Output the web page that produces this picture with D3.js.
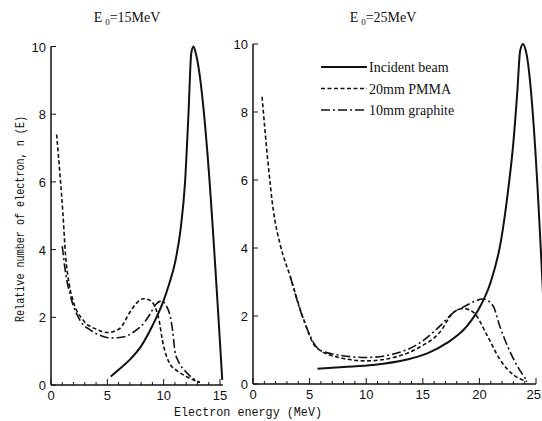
<!DOCTYPE html>
<html>
<head>
<meta charset="utf-8">
<script src="https://cdn.jsdelivr.net/npm/d3@7"></script>
<style>
  body { margin: 0; background: #fff; }
  svg { display: block; }
  .tick-label { font-family: "Liberation Sans", sans-serif; font-size: 13px; fill: #111; }
  .mono { font-family: "Liberation Mono", monospace; font-size: 13px; fill: #111; }
  .serif { font-family: "Liberation Serif", serif; font-size: 14px; fill: #111; }
</style>
</head>
<body>
<div id="chart"></div>
<script>
// E0 = 15 MeV panel
const inc15E = [5.3, 6, 7, 8, 9, 10, 10.5, 11, 11.5, 11.9, 12.2, 12.45, 12.65, 12.85, 15.2];
const inc15N = [0.25, 0.45, 0.75, 1.15, 1.75, 2.5, 3.0, 3.6, 4.6, 6.0, 8.0, 9.8, 10, 9.8, 0.15];
const pmma15E = [0.5, 0.8, 1.05, 1.3, 1.6, 2.0, 2.9, 4.0, 5.0, 6.1, 7.0, 7.6, 8.2, 8.8, 9.3, 9.6, 9.9, 10.2, 10.6, 11.2, 12.0, 13.2];
const pmma15N = [7.4, 6.2, 5.1, 3.8, 3.0, 2.45, 1.9, 1.65, 1.55, 1.67, 2.15, 2.42, 2.55, 2.5, 2.25, 1.9, 1.3, 0.9, 0.6, 0.42, 0.25, 0.08];
const gra15E = [1.0, 1.3, 1.75, 2.6, 3.5, 4.5, 5.3, 6.4, 7.4, 8.3, 8.8, 9.3, 9.8, 10.3, 10.6, 10.8, 11.0, 11.3, 11.8, 12.4, 13.2];
const gra15N = [4.1, 3.3, 2.6, 1.9, 1.62, 1.45, 1.39, 1.42, 1.58, 1.85, 2.1, 2.38, 2.48, 2.3, 2.0, 1.6, 1.0, 0.7, 0.45, 0.25, 0.07];

// E0 = 25 MeV panel
const inc25E = [5.7, 8, 10.6, 13.6, 15.4, 17.1, 18.9, 20.1, 21.0, 21.9, 22.5, 23.0, 23.35, 23.6, 23.85, 24.1, 26.0];
const inc25N = [0.45, 0.5, 0.56, 0.72, 0.9, 1.2, 1.7, 2.3, 3.0, 4.2, 5.6, 7.1, 8.6, 9.8, 10, 9.8, 0];
const pmma25E = [0.8, 1.3, 1.8, 2.4, 3.3, 4.4, 5.6, 7.6, 10, 12.4, 14.7, 16.5, 17.7, 18.6, 19.5, 20.7, 21.8, 23.0, 24.2];
const pmma25N = [8.45, 6.6, 5.1, 4.1, 3.15, 1.97, 1.07, 0.78, 0.68, 0.78, 1.08, 1.52, 2.1, 2.22, 2.1, 1.42, 0.73, 0.27, 0.08];
const gra25E = [3.3, 4.4, 5.9, 7.6, 10, 12.4, 14.7, 16.5, 17.7, 18.8, 19.5, 20.3, 21.2, 21.8, 22.5, 23.4, 24.2];
const gra25N = [3.15, 1.95, 1.0, 0.85, 0.78, 0.88, 1.2, 1.7, 2.1, 2.3, 2.42, 2.5, 2.3, 1.7, 1.1, 0.5, 0.1];

const yTicks = [0, 2, 4, 6, 8, 10];
const legendNames = ["Incident beam", "20mm PMMA", "10mm graphite"];
const dashes = [null, "4,2.5", "9,3,2,3"];

const W = 542, H = 421;
const svg = d3.select("#chart").append("svg").attr("width", W).attr("height", H);

const panels = [
  { x0: 51, x1: 220, xMax: 15, axisEnd: 15.25, y0: 385, y1: 46.5, title: "15MeV", tx: 127,
    series: [[inc15E, inc15N], [pmma15E, pmma15N], [gra15E, gra15N]] },
  { x0: 253, x1: 536, xMax: 25, axisEnd: 25, y0: 384, y1: 44, title: "25MeV", tx: 383,
    series: [[inc25E, inc25N], [pmma25E, pmma25N], [gra25E, gra25N]] }
];

panels.forEach(p => {
  const x = d3.scaleLinear().domain([0, p.xMax]).range([p.x0, p.x1]);
  const y = d3.scaleLinear().domain([0, 10]).range([p.y0, p.y1]);
  const g = svg.append("g");

  // axes lines
  g.append("line").attr("x1", x(0)).attr("x2", x(p.axisEnd)).attr("y1", y(0)).attr("y2", y(0))
    .attr("stroke", "#111").attr("stroke-width", 1.5);
  g.append("line").attr("x1", x(0)).attr("x2", x(0)).attr("y1", y(0)).attr("y2", y(10))
    .attr("stroke", "#111").attr("stroke-width", 1.5);

  // x ticks (minor every 1 MeV, major every 5)
  d3.range(0, p.xMax + 1).forEach(v => {
    const major = v % 5 === 0;
    g.append("line").attr("x1", x(v)).attr("x2", x(v))
      .attr("y1", y(0)).attr("y2", y(0) - (major ? 6 : 3))
      .attr("stroke", "#111").attr("stroke-width", 1);
    if (major) {
      const edge = x(v) + 9 > W;
      g.append("text").attr("class", "tick-label")
        .attr("x", edge ? W - 1 : x(v)).attr("y", y(0) + 15)
        .attr("text-anchor", edge ? "end" : "middle").text(v);
    }
  });

  // y ticks
  yTicks.forEach(v => {
    g.append("line").attr("x1", x(0)).attr("x2", x(0) + 5).attr("y1", y(v)).attr("y2", y(v))
      .attr("stroke", "#111").attr("stroke-width", 1);
    g.append("text").attr("class", "tick-label").attr("x", x(0) - 5).attr("y", y(v) + 5)
      .attr("text-anchor", "end").text(v);
  });

  // curves
  const line = d3.line().curve(d3.curveMonotoneX).x(d => x(d[0])).y(d => y(d[1]));
  p.series.forEach((s, i) => {
    const pts = s[0].map((e, k) => [e, s[1][k]]);
    g.append("path").attr("d", line(pts)).attr("fill", "none")
      .attr("stroke", "#111").attr("stroke-width", i === 0 ? 2 : 1.6)
      .attr("stroke-dasharray", dashes[i]);
  });

  // title
  const t = g.append("text").attr("class", "serif").attr("x", p.tx).attr("y", 22)
    .attr("text-anchor", "middle");
  t.append("tspan").text("E");
  t.append("tspan").attr("font-size", 9).attr("dx", 3).attr("dy", 3).text("0");
  t.append("tspan").attr("dy", -3).text("=" + p.title);
});

// legend
legendNames.forEach((name, i) => {
  const ly = 67 + i * 21.5;
  svg.append("line").attr("x1", 321).attr("x2", 367).attr("y1", ly).attr("y2", ly)
    .attr("stroke", "#111").attr("stroke-width", i === 0 ? 2 : 1.6)
    .attr("stroke-dasharray", dashes[i]);
  svg.append("text").attr("class", "serif").attr("x", 369).attr("y", ly + 5).text(name);
});

// axis titles
svg.append("text").attr("class", "mono")
  .attr("transform", "translate(24,219) rotate(-90)")
  .attr("text-anchor", "middle")
  .attr("textLength", 206).attr("lengthAdjust", "spacingAndGlyphs")
  .text("Relative number of electron, n (E)");
svg.append("text").attr("class", "mono")
  .attr("x", 248).attr("y", 416).attr("text-anchor", "middle")
  .attr("textLength", 148).attr("lengthAdjust", "spacingAndGlyphs")
  .text("Electron energy (MeV)");
</script>
</body>
</html>
